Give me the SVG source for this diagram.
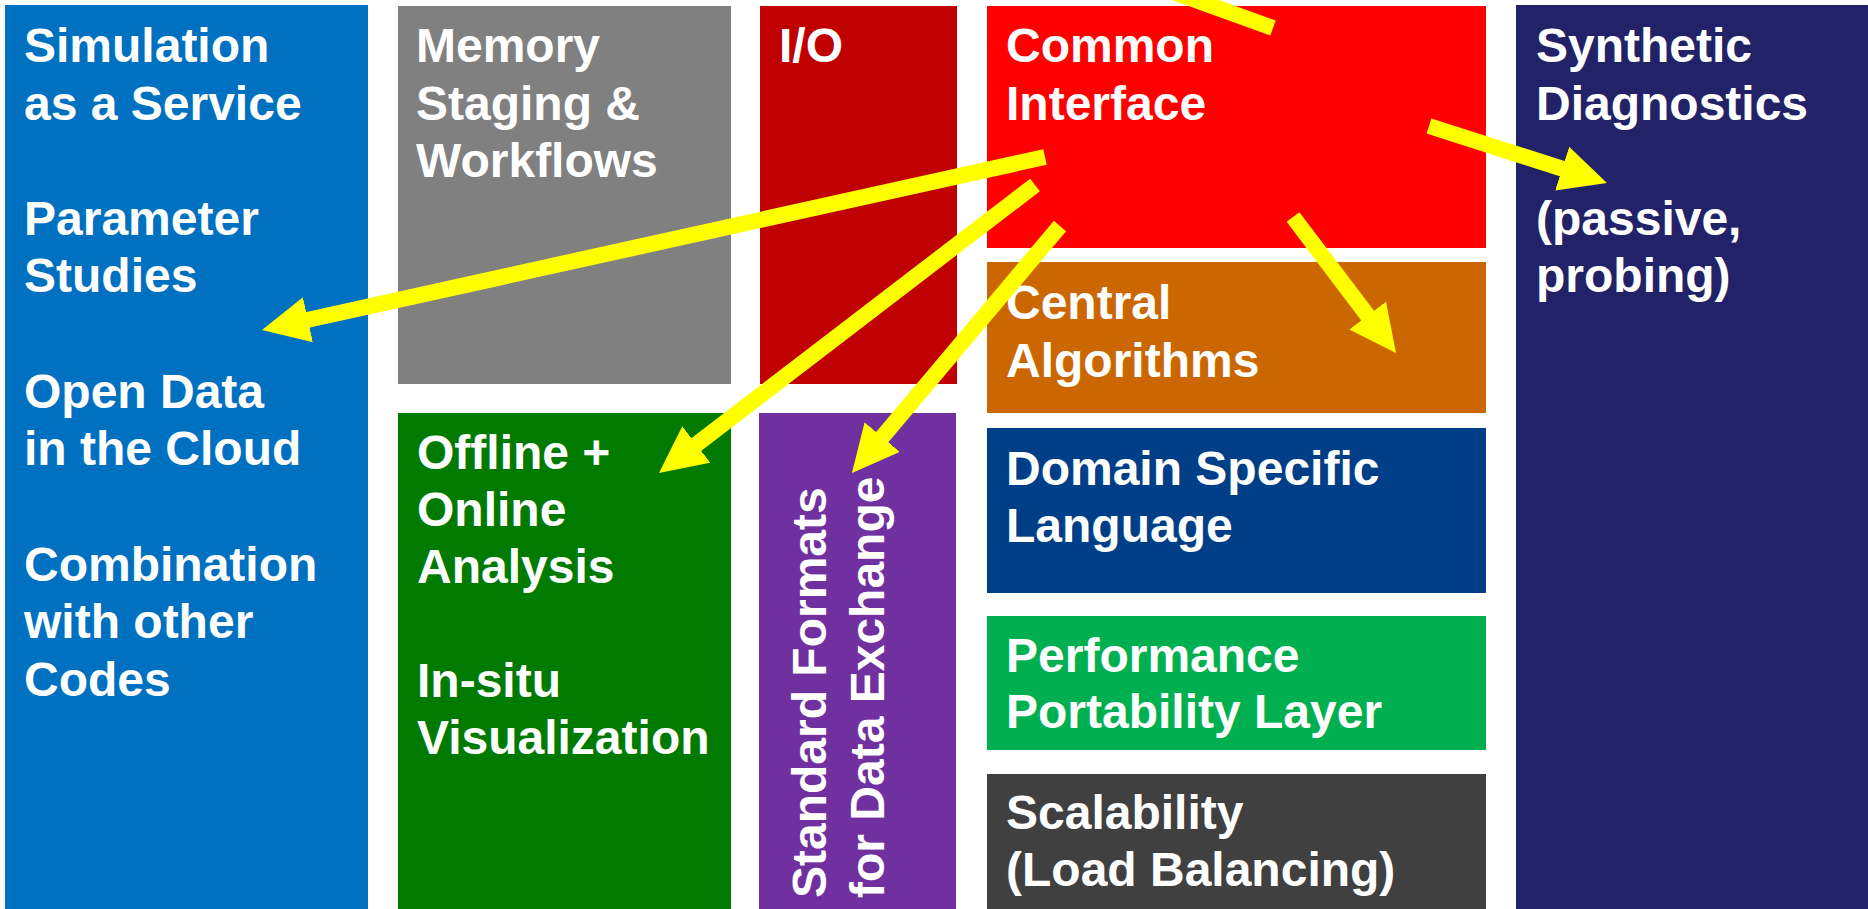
<svg xmlns="http://www.w3.org/2000/svg" width="1868" height="909" viewBox="0 0 1868 909">
  <style>
    .lbl { font-family: "Liberation Sans", Arial, sans-serif; font-weight: bold; font-size: 48px; fill: #FFFFFF; }
    .arrow { stroke: #FFFF00; stroke-width: 16; fill: none; stroke-linecap: butt; }
  </style>
  <defs>
    <marker id="head" markerUnits="userSpaceOnUse" markerWidth="48" markerHeight="48" viewBox="0 0 48 48" refX="17" refY="23" orient="auto">
      <path d="M0,0 L47,23 L0,46 z" fill="#FFFF00"/>
    </marker>
  </defs>

  <rect width="1868" height="909" fill="#FFFFFF"/>

  <!-- left column: applications -->
  <g id="applications">
    <rect x="5" y="5" width="363" height="904" fill="#0070C0"/>
    <text class="lbl">
      <tspan x="24" y="62">Simulation</tspan>
      <tspan x="24" y="119.5">as a Service</tspan>
      <tspan x="24" y="234.5">Parameter</tspan>
      <tspan x="24" y="292">Studies</tspan>
      <tspan x="24" y="407.5">Open Data</tspan>
      <tspan x="24" y="465">in the Cloud</tspan>
      <tspan x="24" y="580.5">Combination</tspan>
      <tspan x="24" y="638">with other</tspan>
      <tspan x="24" y="695.5">Codes</tspan>
    </text>
  </g>

  <g id="memory-staging">
    <rect x="398" y="6" width="333" height="378" fill="#808080"/>
    <text class="lbl">
      <tspan x="416" y="62">Memory</tspan>
      <tspan x="416" y="119.5">Staging &amp;</tspan>
      <tspan x="416" y="177">Workflows</tspan>
    </text>
  </g>

  <g id="io">
    <rect x="760" y="6" width="197" height="378" fill="#C00000"/>
    <text class="lbl" x="779" y="62">I/O</text>
  </g>

  <g id="analysis">
    <rect x="398" y="413" width="333" height="496" fill="#007A00"/>
    <text class="lbl">
      <tspan x="417" y="469">Offline +</tspan>
      <tspan x="417" y="526">Online</tspan>
      <tspan x="417" y="583">Analysis</tspan>
      <tspan x="417" y="697">In-situ</tspan>
      <tspan x="417" y="754">Visualization</tspan>
    </text>
  </g>

  <g id="standard-formats">
    <rect x="759" y="413" width="197" height="496" fill="#7030A0"/>
    <text class="lbl" transform="translate(826,898) rotate(-90)">
      <tspan x="0" y="0">Standard Formats</tspan>
      <tspan x="0" y="57.5">for Data Exchange</tspan>
    </text>
  </g>

  <g id="common-interface">
    <rect x="987" y="6" width="499" height="242" fill="#FF0000"/>
    <text class="lbl">
      <tspan x="1006" y="62">Common</tspan>
      <tspan x="1006" y="119.5">Interface</tspan>
    </text>
  </g>

  <g id="central-algorithms">
    <rect x="987" y="262" width="499" height="151" fill="#CC6600"/>
    <text class="lbl">
      <tspan x="1006" y="319">Central</tspan>
      <tspan x="1006" y="377">Algorithms</tspan>
    </text>
  </g>

  <g id="domain-specific-language">
    <rect x="987" y="428" width="499" height="165" fill="#003F88"/>
    <text class="lbl">
      <tspan x="1006" y="485">Domain Specific</tspan>
      <tspan x="1006" y="542">Language</tspan>
    </text>
  </g>

  <g id="performance-portability">
    <rect x="987" y="616" width="499" height="134" fill="#00B050"/>
    <text class="lbl">
      <tspan x="1006" y="672">Performance</tspan>
      <tspan x="1006" y="728">Portability Layer</tspan>
    </text>
  </g>

  <g id="scalability">
    <rect x="987" y="774" width="499" height="135" fill="#404040"/>
    <text class="lbl">
      <tspan x="1006" y="829">Scalability</tspan>
      <tspan x="1006" y="886">(Load Balancing)</tspan>
    </text>
  </g>

  <g id="synthetic-diagnostics">
    <rect x="1516" y="5" width="352" height="904" fill="#222268"/>
    <text class="lbl">
      <tspan x="1536" y="62">Synthetic</tspan>
      <tspan x="1536" y="119.5">Diagnostics</tspan>
      <tspan x="1536" y="234.5">(passive,</tspan>
      <tspan x="1536" y="292">probing)</tspan>
    </text>
  </g>

  <!-- yellow connectors radiating from the common interface -->
  <g id="connectors">
    <line class="arrow" x1="1273" y1="28" x2="1118" y2="-28"/>
    <line class="arrow" x1="1045" y1="157" x2="291.3" y2="323.5" marker-end="url(#head)"/>
    <line class="arrow" x1="1035" y1="185" x2="682.8" y2="454.8" marker-end="url(#head)"/>
    <line class="arrow" x1="1060" y1="226" x2="871.3" y2="450.1" marker-end="url(#head)"/>
    <line class="arrow" x1="1293" y1="217" x2="1377.9" y2="329.1" marker-end="url(#head)"/>
    <line class="arrow" x1="1429" y1="126" x2="1578.4" y2="173.9" marker-end="url(#head)"/>
  </g>
</svg>
